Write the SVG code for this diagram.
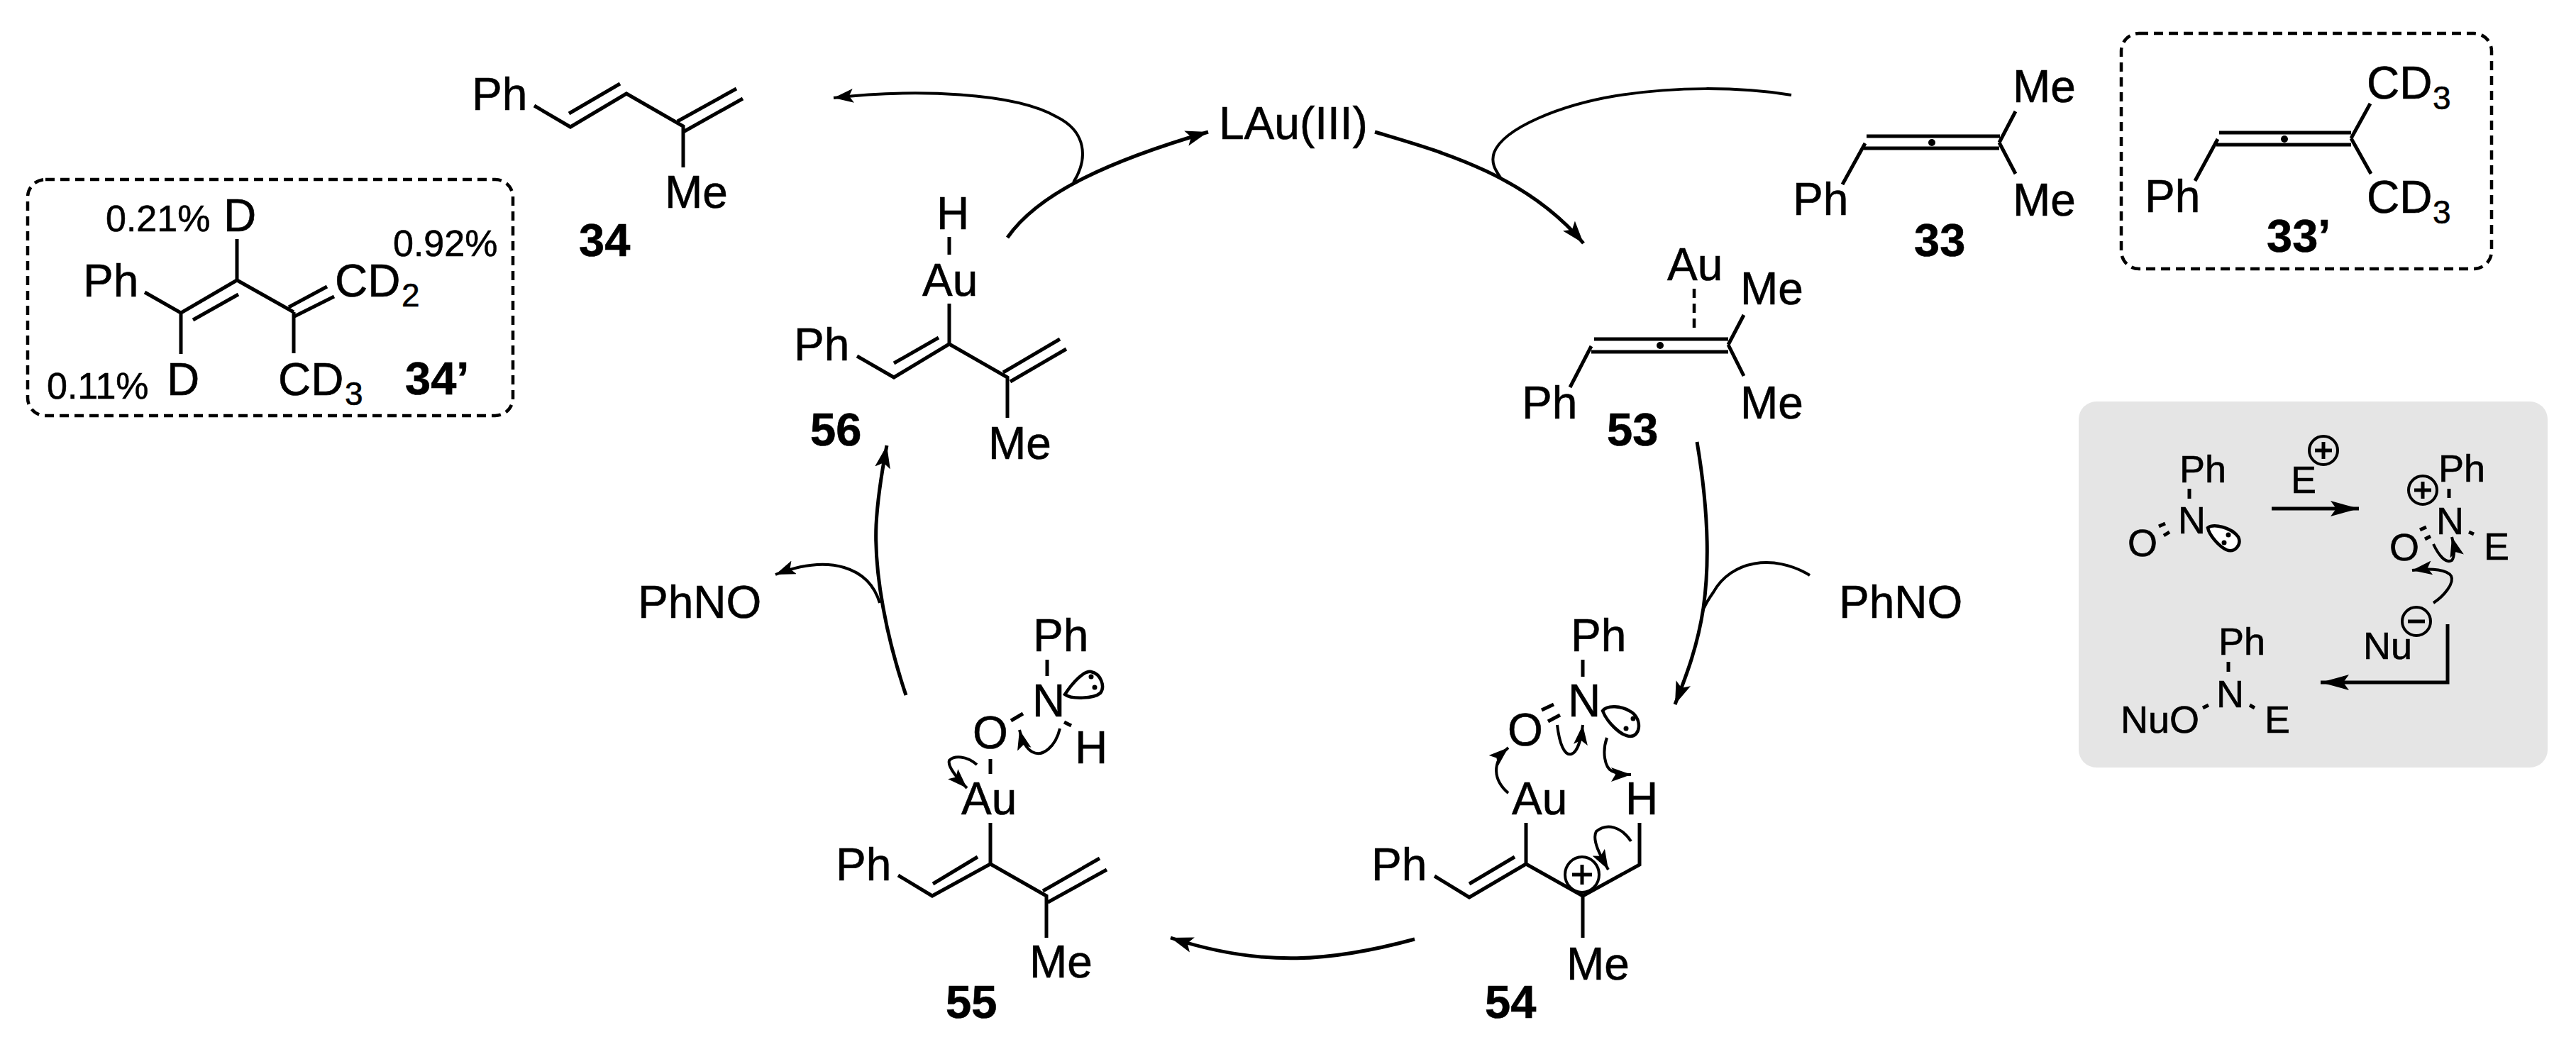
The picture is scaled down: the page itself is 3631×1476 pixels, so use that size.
<svg xmlns="http://www.w3.org/2000/svg" width="3631" height="1476" viewBox="0 0 3631 1476">
<style>
text{font-family:"Liberation Sans",Arial,sans-serif;fill:#000;stroke:#000;stroke-width:.6}
.t{font-size:64px}
.s{font-size:46px}
.p{font-size:52px}
.g{font-size:54px}
.b{font-size:65px;font-weight:bold}
.bond{fill:none;stroke:#000;stroke-width:5}
.dash{fill:none;stroke:#000;stroke-width:4.5;stroke-dasharray:13 8}
.arc{fill:none;stroke:#000;stroke-width:5}
.thin{fill:none;stroke:#000;stroke-width:4}
.lobe{fill:none;stroke:#000;stroke-width:4.5}
</style>
<defs>
<marker id="big" markerUnits="userSpaceOnUse" markerWidth="40" markerHeight="30" refX="32" refY="12" orient="auto"><path d="M32,12L0,1L7,12L0,23Z"/></marker>
<marker id="small" markerUnits="userSpaceOnUse" markerWidth="36" markerHeight="26" refX="28" refY="10" orient="auto"><path d="M28,10L0,0L6,10L0,20Z"/></marker>
<marker id="panel" markerUnits="userSpaceOnUse" markerWidth="48" markerHeight="30" refX="40" refY="12" orient="auto"><path d="M40,12L0,1L8,12L0,23Z"/></marker>
</defs>
<g id="panel-bg"><rect x="2930" y="566" width="661" height="516" rx="25" fill="#e5e5e5"/></g>
<g id="connectors">
<path class="arc" marker-end="url(#big)" d="M1420,335C1465,270 1570,225 1703,186"/>
<path class="arc" marker-end="url(#big)" d="M1938,186C2025,212 2150,245 2232,343"/>
<path class="thin" marker-end="url(#small)" d="M1513,257C1535,222 1530,185 1490,165C1430,130 1290,125 1175,138"/>
<path class="thin" d="M2525,134C2450,122 2360,122 2278,135C2200,148 2120,180 2106,215C2101,230 2108,240 2116,252"/>
<path class="arc" marker-end="url(#big)" d="M2392,623C2405,700 2412,780 2401,857C2393,910 2378,950 2361,993"/>
<path class="thin" d="M2551,811C2500,780 2440,790 2415,835C2408,845 2404,852 2402,857"/>
<path class="arc" marker-end="url(#big)" d="M1994,1324C1880,1355 1780,1365 1650,1322"/>
<path class="arc" marker-end="url(#big)" d="M1277,980C1250,900 1232,810 1235,740C1237,700 1243,665 1250,628"/>
<path class="thin" marker-end="url(#small)" d="M1240,850C1225,800 1170,780 1093,810"/>
</g>
<g id="mol-34">
<text class="t" x="665" y="155">Ph</text>
<path class="bond" d="M753,149L804,179L883,132L963,178L963,236M802,160L874,118M955,171L1038,125M963,186L1047,139"/>
<text class="t" x="937" y="293">Me</text>
<text class="b" x="816" y="361">34</text>
</g>
<g id="mol-34-prime">
<rect class="dash" x="39" y="253" width="684" height="333" rx="25"/>
<text class="p" x="149" y="326">0.21%</text>
<text class="t" x="315" y="326">D</text>
<text class="p" x="554" y="361">0.92%</text>
<path class="bond" d="M334,337V395M204,412L255,441L334,395L414,440M272,451L336,415M407,433L461,404M415,446L471,418M255,441V499M414,440V498"/>
<text class="t" x="117" y="418">Ph</text>
<text class="t" x="472" y="418">CD</text>
<text class="s" x="566" y="432">2</text>
<text class="t" x="235" y="557">D</text>
<text class="p" x="66" y="562">0.11%</text>
<text class="t" x="392" y="557">CD</text>
<text class="s" x="486" y="571">3</text>
<text class="b" x="571" y="556">34’</text>
</g>
<g id="mol-56">
<text class="t" x="1320" y="323">H</text>
<text class="t" x="1300" y="417">Au</text>
<text class="t" x="1119" y="508">Ph</text>
<path class="bond" d="M1338,334V359M1338,428V485L1260,532L1208,502M1260,512L1323,476M1338,485L1420,532L1420,589M1414,525L1494,478M1424,538L1503,492"/>
<text class="t" x="1393" y="647">Me</text>
<text class="b" x="1142" y="628">56</text>
</g>
<g id="lau">
<text class="t" x="1718" y="196">LAu(III)</text>
</g>
<g id="mol-53">
<text class="t" x="2350" y="395">Au</text>
<path class="dash" d="M2388,407V465"/>
<path class="bond" d="M2247,478H2436M2243,496H2436M2243,488L2213,546M2436,486L2458,444M2436,486L2458,530"/>
<circle cx="2340" cy="487" r="5"/>
<text class="t" x="2453" y="429">Me</text>
<text class="t" x="2453" y="590">Me</text>
<text class="t" x="2145" y="590">Ph</text>
<text class="b" x="2265" y="628">53</text>
</g>
<g id="mol-33">
<path class="bond" d="M2631,192H2819M2627,209H2818M2629,202L2597,260M2818,201L2841,157M2818,201L2841,245"/>
<circle cx="2723" cy="201" r="5"/>
<text class="t" x="2837" y="144">Me</text>
<text class="t" x="2837" y="304">Me</text>
<text class="t" x="2527" y="303">Ph</text>
<text class="b" x="2698" y="361">33</text>
</g>
<g id="mol-33-prime">
<rect class="dash" x="2990" y="47" width="522" height="332" rx="25"/>
<path class="bond" d="M3128,187H3314M3124,204H3314M3126,196L3094,255M3314,195L3341,146M3314,195L3342,245"/>
<circle cx="3220" cy="196" r="5"/>
<text class="t" x="3336" y="139">CD</text>
<text class="s" x="3429" y="154">3</text>
<text class="t" x="3336" y="300">CD</text>
<text class="s" x="3429" y="315">3</text>
<text class="t" x="3023" y="299">Ph</text>
<text class="b" x="3195" y="355">33’</text>
</g>
<g id="phno-left"><text class="t" x="899" y="871">PhNO</text></g>
<g id="phno-right"><text class="t" x="2592" y="871">PhNO</text></g>
<g id="mol-55">
<text class="t" x="1456" y="918">Ph</text>
<text class="t" x="1455" y="1010">N</text>
<text class="t" x="1371" y="1055">O</text>
<text class="t" x="1515" y="1076">H</text>
<text class="t" x="1355" y="1148">Au</text>
<text class="t" x="1178" y="1241">Ph</text>
<text class="t" x="1451" y="1378">Me</text>
<text class="b" x="1333" y="1435">55</text>
<path class="bond" d="M1476,930V953M1425,1016L1442,1006M1500,1018L1510,1023M1396,1070V1091M1396,1160V1218L1314,1263L1266,1234M1315,1246L1378,1208M1396,1218L1475,1263V1322M1470,1256L1550,1210M1477,1272L1560,1226"/>
<path class="lobe" d="M1501,979C1512,962 1528,945 1538,947C1552,950 1558,968 1551,977C1542,985 1510,986 1501,979Z"/>
<circle cx="1538" cy="954" r="3.5"/><circle cx="1543" cy="969" r="3.5"/>
<path class="thin" marker-end="url(#small)" d="M1494,1027C1488,1052 1470,1068 1455,1060C1446,1055 1441,1045 1437,1029"/>
<path class="thin" marker-end="url(#small)" d="M1377,1078C1362,1065 1345,1065 1338,1072C1335,1080 1350,1098 1363,1111"/>
</g>
<g id="mol-54">
<text class="t" x="2214" y="918">Ph</text>
<text class="t" x="2210" y="1010">N</text>
<text class="t" x="2125" y="1051">O</text>
<text class="t" x="2131" y="1148">Au</text>
<text class="t" x="2291" y="1148">H</text>
<text class="t" x="1933" y="1241">Ph</text>
<text class="t" x="2208" y="1381">Me</text>
<text class="b" x="2093" y="1435">54</text>
<path class="bond" d="M2231,930V954M2173,1001L2190,993M2182,1017L2199,1008M2151,1160V1218L2071,1265L2022,1235M2071,1246L2135,1208M2151,1218L2231,1263V1322M2231,1263L2311,1219V1160"/>
<path class="lobe" d="M2259,1002C2265,994 2285,994 2300,1004C2315,1015 2312,1038 2298,1038C2285,1038 2265,1018 2259,1002Z"/>
<circle cx="2302" cy="1013" r="3.5"/><circle cx="2292" cy="1027" r="3.5"/>
<ellipse class="thin" cx="2230" cy="1233" rx="24" ry="25"/>
<path class="bond" d="M2216,1233H2244M2230,1219V1247"/>
<path class="thin" marker-end="url(#small)" d="M2195,1022C2198,1048 2205,1066 2215,1063C2224,1060 2229,1040 2231,1022"/>
<path class="thin" marker-end="url(#small)" d="M2265,1040C2258,1060 2262,1082 2272,1087C2280,1091 2290,1092 2299,1092"/>
<path class="thin" marker-end="url(#small)" d="M2126,1118C2105,1100 2102,1075 2126,1054"/>
<path class="thin" marker-end="url(#small)" d="M2299,1186C2285,1165 2265,1160 2250,1172C2243,1185 2258,1210 2267,1226"/>
</g>
<g id="panel-left">
<text class="g" x="3072" y="680">Ph</text>
<text class="g" x="3070" y="752">N</text>
<text class="g" x="2999" y="784">O</text>
<path class="bond" d="M3086,689V703M3043,742L3052,738M3050,755L3058,750"/>
<path class="lobe" style="fill:#fff" d="M3112,744C3120,738 3145,743 3155,757C3160,768 3150,780 3138,775C3128,770 3114,755 3112,744Z"/>
<circle cx="3141" cy="754" r="3.5"/><circle cx="3135" cy="765" r="3.5"/>
</g>
<g id="panel-e">
<text class="g" x="3229" y="695">E</text>
<circle class="thin" cx="3275" cy="635" r="20"/>
<path class="bond" d="M3263,635H3287M3275,623V647"/>
<path class="arc" marker-end="url(#panel)" d="M3202,717H3325"/>
</g>
<g id="panel-right">
<text class="g" x="3437" y="679">Ph</text>
<circle class="thin" cx="3415" cy="691" r="20"/>
<path class="bond" d="M3403,691H3427M3415,679V703"/>
<text class="g" x="3434" y="753">N</text>
<text class="g" x="3368" y="790">O</text>
<text class="g" x="3501" y="789">E</text>
<path class="bond" d="M3452,689V702M3411,747L3420,743M3418,760L3426,756M3480,750L3487,753"/>
<path class="thin" marker-end="url(#small)" d="M3430,767C3437,782 3447,795 3456,790C3460,785 3460,772 3456,757"/>
<path class="thin" marker-end="url(#small)" d="M3430,850C3445,840 3460,822 3455,812C3450,804 3430,800 3400,804"/>
</g>
<g id="panel-nu">
<text class="g" x="3331" y="929">Nu</text>
<circle class="thin" cx="3406" cy="876" r="20"/>
<path class="bond" d="M3394,876H3418"/>
<path class="arc" marker-end="url(#panel)" d="M3450,880V962H3271"/>
</g>
<g id="panel-product">
<text class="g" x="3127" y="923">Ph</text>
<text class="g" x="3124" y="997">N</text>
<text class="g" x="2989" y="1033">NuO</text>
<text class="g" x="3192" y="1033">E</text>
<path class="bond" d="M3141,933V947M3105,998L3113,994M3171,994L3178,998"/>
</g>
</svg>
